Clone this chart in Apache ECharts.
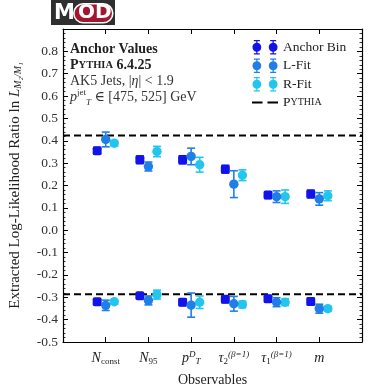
<!DOCTYPE html>
<html><head><meta charset="utf-8">
<script src="https://cdn.jsdelivr.net/npm/echarts@6/dist/echarts.min.js"></script>
<style>html,body{margin:0;padding:0;background:#fff}#c{width:374px;height:392px}</style>
</head><body><div id="c"></div>
<script>
// ---- data ----
const categories = ['Nconst', 'N95', 'pTD', 'tau2', 'tau1', 'm'];
const anchorUpper = [0.355, 0.315, 0.315, 0.273, 0.157, 0.162];
const anchorUpperErr = [0.015, 0.017, 0.018, 0.017, 0.015, 0.017];
const lfitUpper = [0.406, 0.285, 0.330, 0.206, 0.150, 0.140];
const lfitUpperErr = [0.033, 0.020, 0.037, 0.060, 0.026, 0.028];
const rfitUpper = [0.389, 0.352, 0.293, 0.246, 0.150, 0.154];
const rfitUpperErr = [0.012, 0.023, 0.033, 0.024, 0.030, 0.022];
const anchorLower = [-0.320, -0.293, -0.322, -0.309, -0.307, -0.319];
const anchorLowerErr = [0.012, 0.010, 0.015, 0.015, 0.015, 0.015];
const lfitLower = [-0.336, -0.314, -0.335, -0.329, -0.322, -0.351];
const lfitLowerErr = [0.023, 0.020, 0.054, 0.033, 0.020, 0.020];
const rfitLower = [-0.320, -0.288, -0.322, -0.332, -0.322, -0.351];
const rfitLowerErr = [0.010, 0.020, 0.028, 0.015, 0.015, 0.010];
const pythiaValues = [0.424, -0.286];
const categoryLabels = [
  '{i|N}{sub|const}',
  '{i|N}{sub|95}',
  '{i|p}{sup|D}{subb|T}',
  '{i|τ}{sub|2}{sup|(β=1)}',
  '{i|τ}{sub|1}{sup|(β=1)}',
  '{i|m}'
];
const offsets = [-0.2, 0, 0.2];

const SERIF = '"Liberation Serif","DejaVu Serif",serif';
const colors = ['#1212ea', '#1f7fe6', '#22c5ee'];

function build(upper, upErr, lower, loErr, off) {
  const d = [];
  upper.forEach((v, i) => d.push([i + 1 + off, v, upErr[i]]));
  lower.forEach((v, i) => d.push([i + 1 + off, v, loErr[i]]));
  return d;
}

function makeRender(square) {
  return function (params, api) {
    const x = api.value(0), y = api.value(1), e = api.value(2);
    const p = api.coord([x, y]);
    const t = api.coord([x, y + e]);
    const b = api.coord([x, y - e]);
    const color = api.visual('color');
    const ls = { stroke: color, lineWidth: 1.6 };
    const marker = square
      ? { type: 'rect', shape: { x: p[0] - 4.5, y: p[1] - 4.5, width: 9, height: 9, r: 2 }, style: { fill: color } }
      : { type: 'circle', shape: { cx: p[0], cy: p[1], r: 4.7 }, style: { fill: color } };
    return { type: 'group', children: [
      { type: 'line', shape: { x1: p[0], y1: t[1], x2: p[0], y2: b[1] }, style: ls },
      { type: 'line', shape: { x1: p[0] - 4, y1: t[1], x2: p[0] + 4, y2: t[1] }, style: ls },
      { type: 'line', shape: { x1: p[0] - 4, y1: b[1], x2: p[0] + 4, y2: b[1] }, style: ls },
      marker
    ]};
  };
}

// two error-bar markers: centers x=7.5 and 34.5, y=12, r=7.5
function emPath(cx) {
  const l = cx - 1, r = cx + 1, cl = cx - 5, cr = cx + 5;
  return `M${cl},0 L${cr},0 L${cr},2 L${r},2 L${r},4.6 A7.5,7.5 0 0,1 ${r},19.4 L${r},22 L${cr},22 L${cr},24 L${cl},24 L${cl},22 L${l},22 L${l},19.4 A7.5,7.5 0 0,1 ${l},4.6 L${l},2 L${cl},2 Z`;
}
const iconCircle = 'path://' + emPath(7.5) + ' ' + emPath(34.5);
const iconDash = 'path://M0,10.5 L17,10.5 L17,13.5 L0,13.5 Z M25,10.5 L42,10.5 L42,13.5 L25,13.5 Z';

const chart = echarts.init(document.getElementById('c'), null, { renderer: 'canvas' });

const axisLineStyle = { color: '#000', width: 1.2 };
const xAxisBase = {
  type: 'value', min: 0, max: 7, interval: 1,
  axisLine: { show: true, onZero: false, lineStyle: axisLineStyle },
  axisTick: { show: true, inside: true, length: 5, lineStyle: { color: '#000', width: 1 } },
  splitLine: { show: false }
};
const yAxisBase = {
  type: 'value', min: -0.5, max: 0.9, interval: 0.1,
  axisLine: { show: true, onZero: false, lineStyle: axisLineStyle },
  axisTick: { show: true, inside: true, length: 5, lineStyle: { color: '#000', width: 1 } },
  minorTick: { show: true, splitNumber: 5, length: 2.5, lineStyle: { color: '#000', width: 0.8 } },
  splitLine: { show: false }
};

const option = {
  animation: false,
  backgroundColor: '#fff',
  grid: { left: 54.5, right: 12, top: 29, bottom: 46 },
  xAxis: [
    Object.assign({}, xAxisBase, {
      position: 'bottom',
      name: 'Observables', nameLocation: 'middle', nameGap: 31,
      nameTextStyle: { fontFamily: SERIF, fontSize: 14, color: '#222' },
      axisLabel: {
        margin: 8, color: '#222', fontFamily: SERIF,
        formatter: v => (v >= 1 && v <= 6) ? categoryLabels[v - 1] : '',
        rich: {
          i: { fontFamily: SERIF, fontStyle: 'italic', fontSize: 14, color: '#222', lineHeight: 16 },
          sub: { fontFamily: SERIF, fontSize: 9, color: '#222', verticalAlign: 'bottom', lineHeight: 9 },
          subb: { fontFamily: SERIF, fontStyle: 'italic', fontSize: 9, color: '#222', verticalAlign: 'bottom', lineHeight: 9 },
          sup: { fontFamily: SERIF, fontStyle: 'italic', fontSize: 9, color: '#222', verticalAlign: 'top', lineHeight: 9 }
        }
      }
    }),
    Object.assign({}, xAxisBase, { position: 'top', axisLabel: { show: false } })
  ],
  yAxis: [
    Object.assign({}, yAxisBase, {
      position: 'left',
      name: 'Extracted Log-Likelihood Ratio ln {i|L}{sub|M₂/M₁}',
      nameLocation: 'middle', nameGap: 40, nameRotate: 90,
      nameTextStyle: {
        fontFamily: SERIF, fontSize: 15, color: '#222',
        rich: {
          i: { fontFamily: SERIF, fontStyle: 'italic', fontSize: 15, color: '#222' },
          sub: { fontFamily: SERIF, fontStyle: 'italic', fontSize: 10, color: '#222', verticalAlign: 'bottom' }
        }
      },
      axisLabel: {
        margin: 5, color: '#333', fontFamily: SERIF, fontSize: 13.5, showMaxLabel: false,
        formatter: v => (Math.abs(v) < 1e-9 ? 0 : v).toFixed(1)
      }
    }),
    Object.assign({}, yAxisBase, { position: 'right', axisLabel: { show: false } })
  ],
  legend: {
    orient: 'vertical', left: 247, top: 35,
    itemWidth: 26, itemHeight: 14.5, itemGap: 4,
    textStyle: {
      fontFamily: SERIF, fontSize: 13.5, color: '#222',
      rich: {
        a: { fontFamily: SERIF, fontSize: 13.5, color: '#222' },
        b: { fontFamily: SERIF, fontSize: 10, color: '#222' }
      }
    },
    formatter: n => n === 'Pythia' ? '{a|P}{b|YTHIA}' : n,
    data: [
      { name: 'Anchor Bin', icon: iconCircle },
      { name: 'L-Fit', icon: iconCircle },
      { name: 'R-Fit', icon: iconCircle },
      { name: 'Pythia', icon: iconDash, itemStyle: { color: '#000' } }
    ],
    selectedMode: false
  },
  series: [
    {
      name: 'Pythia', type: 'line', xAxisIndex: 0, yAxisIndex: 0,
      data: [[0, pythiaValues[0]], [7, pythiaValues[0]]],
      symbol: 'none', color: '#000', z: 1,
      lineStyle: { color: '#000', width: 2, type: [7, 4] }
    },
    {
      name: 'Pythia', type: 'line', xAxisIndex: 0, yAxisIndex: 0,
      data: [[0, pythiaValues[1]], [7, pythiaValues[1]]],
      symbol: 'none', color: '#000', z: 1,
      lineStyle: { color: '#000', width: 2, type: [7, 4] }
    },
    {
      name: 'Anchor Bin', type: 'custom', color: colors[0], itemStyle: { color: colors[0] },
      renderItem: makeRender(true), encode: { x: 0, y: 1 },
      data: build(anchorUpper, anchorUpperErr, anchorLower, anchorLowerErr, offsets[0]), z: 3
    },
    {
      name: 'L-Fit', type: 'custom', color: colors[1], itemStyle: { color: colors[1] },
      renderItem: makeRender(false), encode: { x: 0, y: 1 },
      data: build(lfitUpper, lfitUpperErr, lfitLower, lfitLowerErr, offsets[1]), z: 4
    },
    {
      name: 'R-Fit', type: 'custom', color: colors[2], itemStyle: { color: colors[2] },
      renderItem: makeRender(false), encode: { x: 0, y: 1 },
      data: build(rfitUpper, rfitUpperErr, rfitLower, rfitLowerErr, offsets[2]), z: 3
    }
  ],
  graphic: [
    { type: 'rect', left: 51, top: 0, shape: { width: 64, height: 25 }, style: { fill: '#2f2f2f' } },
    { type: 'text', left: 54, top: 3, style: { text: 'M', fill: '#fff', font: 'bold 21px "DejaVu Sans", sans-serif' } },
    { type: 'rect', left: 73, top: 3, shape: { width: 39, height: 19, r: 9.5 }, style: { fill: '#a3162f', stroke: '#fff', lineWidth: 1.6 } },
    { type: 'text', left: 78, top: 3, style: { text: 'OD', fill: '#fff', font: 'bold 20px "DejaVu Sans", sans-serif' } },
    { type: 'text', left: 70, top: 42, style: { text: 'Anchor Values', fill: '#222', font: 'bold 14px ' + SERIF } },
    { type: 'text', left: 70, top: 58, style: {
        text: '{a|P}{b|YTHIA}{a| 6.4.25}', fill: '#222',
        rich: { a: { font: 'bold 14px ' + SERIF, fill: '#222' }, b: { font: 'bold 10.5px ' + SERIF, fill: '#222' } } } },
    { type: 'text', left: 70, top: 74, style: {
        text: '{a|AK5 Jets, |}{i|η}{a|| < 1.9}',
        rich: { a: { font: '14px ' + SERIF, fill: '#333' }, i: { font: 'italic 14px ' + SERIF, fill: '#333' } } } },
    { type: 'text', left: 70, top: 88, style: {
        text: '{i|p}{sup|jet}{sub|T}{a| ∈ [475, 525] GeV}',
        rich: {
          a: { font: '14px ' + SERIF, fill: '#333', lineHeight: 19 },
          i: { font: 'italic 14px ' + SERIF, fill: '#333', lineHeight: 19 },
          sup: { font: '9px ' + SERIF, fill: '#333', verticalAlign: 'top', lineHeight: 9 },
          sub: { font: 'italic 9px ' + SERIF, fill: '#333', verticalAlign: 'bottom', lineHeight: 9 }
        } } }
  ]
};
chart.setOption(option);
</script>
</body></html>
